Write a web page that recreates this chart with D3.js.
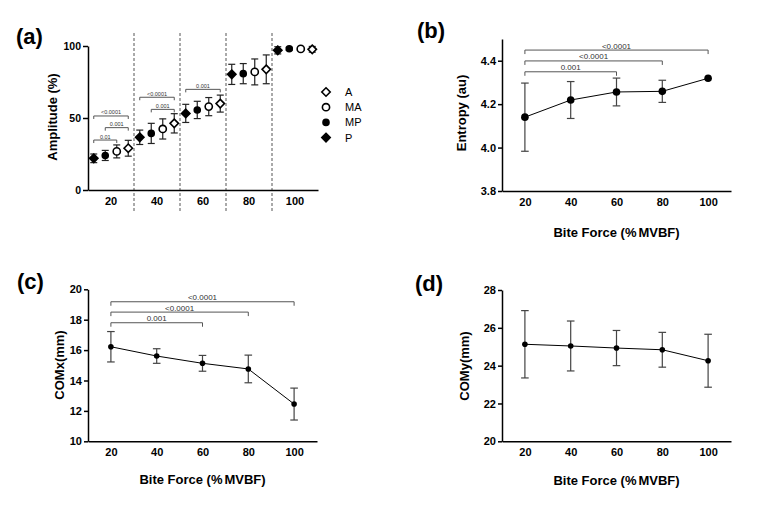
<!DOCTYPE html>
<html><head><meta charset="utf-8">
<script src="https://cdn.jsdelivr.net/npm/d3@7"></script>
<style>body{margin:0;background:#fff} svg{display:block} text{font-family:"Liberation Sans",Arial,sans-serif}</style>
</head><body>
<svg id="chart" width="782" height="515"></svg>
<script>
// ---------- DATA ----------
const forceLevels = [20, 40, 60, 80, 100];
const ampSeries = ["P", "MP", "MA", "A"];
const legendOrder = ["A", "MA", "MP", "P"];
const ampP = [22, 36.6, 53.2, 80.3, 97];
const ampPErr = [3, 5, 6.3, 7, 2.5];
const ampMP = [24, 39.3, 55.6, 80.8, 98.1];
const ampMPErr = [3.5, 7, 6, 7, 1];
const ampMA = [26.8, 42.4, 57.9, 82, 98];
const ampMAErr = [4.5, 7, 6.3, 9, 1];
const ampA = [29, 46.3, 60, 83.8, 97.7];
const ampAErr = [5.5, 6.7, 5.9, 10, 2];
const ampTicks = [0, 50, 100];
const ampBrackets = [
  {group: 20, from: "P", to: "MA", p: "0.01", level: 34.7},
  {group: 20, from: "MP", to: "A", p: "0.001", level: 43.3},
  {group: 20, from: "P", to: "A", p: "<0.0001", level: 51.4},
  {group: 40, from: "MP", to: "A", p: "0.001", level: 56},
  {group: 40, from: "P", to: "A", p: "<0.0001", level: 64.4},
  {group: 60, from: "P", to: "A", p: "0.001", level: 69.9}
];

const entropy = [4.14, 4.219, 4.256, 4.259, 4.319];
const entropyErr = [0.157, 0.085, 0.064, 0.051, 0];
const entropyTicks = [3.8, 4.0, 4.2, 4.4];
const entropyBrackets = [
  {from: 20, to: 60, p: "0.001", level: 4.349},
  {from: 20, to: 80, p: "<0.0001", level: 4.399},
  {from: 20, to: 100, p: "<0.0001", level: 4.449}
];

const comx = [16.22, 15.61, 15.13, 14.76, 12.45];
const comxErr = [1.0, 0.48, 0.52, 0.91, 1.05];
const comxTicks = [10, 12, 14, 16, 18, 20];
const comxBrackets = [
  {from: 20, to: 60, p: "0.001", level: 17.8},
  {from: 20, to: 80, p: "<0.0001", level: 18.5},
  {from: 20, to: 100, p: "<0.0001", level: 19.18}
];

const comy = [25.13, 25.04, 24.93, 24.84, 24.26];
const comyErr = [1.78, 1.32, 0.93, 0.92, 1.4];
const comyTicks = [20, 22, 24, 26, 28];

// ---------- DRAW ----------
const svg = d3.select("#chart");
const FONT = '"Liberation Sans", Arial, sans-serif';

function styleAxis(g, fs) {
  g.selectAll("path.domain").attr("stroke", "#000").attr("stroke-width", 1.5);
  g.selectAll(".tick line").attr("stroke", "#000").attr("stroke-width", 1.5);
  g.selectAll(".tick text").attr("font-family", FONT).attr("font-weight", "bold")
    .attr("font-size", fs).attr("fill", "#000");
}

function bracket(g, x1, x2, y, label, drop, fs, color) {
  g.append("path")
    .attr("d", `M${x1},${y + drop}V${y}H${x2}V${y + drop}`)
    .attr("fill", "none").attr("stroke", color).attr("stroke-width", 1);
  g.append("text").attr("x", (x1 + x2) / 2).attr("y", y - 1.5)
    .attr("text-anchor", "middle").attr("font-size", fs).attr("fill", "#333")
    .text(label);
}

function panelLabel(txt, x, y) {
  svg.append("text").attr("x", x).attr("y", y).attr("font-size", 22)
    .attr("font-weight", "bold").attr("fill", "#000").text(txt);
}

function yTitle(txt, x, y) {
  svg.append("text").attr("transform", `translate(${x},${y}) rotate(-90)`)
    .attr("text-anchor", "middle").attr("font-size", 13).attr("font-weight", "bold")
    .attr("fill", "#000").text(txt);
}
function xTitle(x, y) {
  const t = svg.append("text").attr("x", x).attr("y", y)
    .attr("text-anchor", "middle").attr("font-size", 13).attr("font-weight", "bold")
    .attr("fill", "#000");
  t.append("tspan").text("Bite Force (%");
  t.append("tspan").attr("dx", 2).text("MVBF)");
}

// ---- Panel (a) ----
(function () {
  const x0 = d3.scaleBand().domain(forceLevels).range([88, 318]).padding(0);
  const x1 = d3.scaleBand().domain(ampSeries).range([0, x0.bandwidth()]).padding(0);
  const y = d3.scaleLinear().domain([0, 100]).range([190, 46]);
  const g = svg.append("g");

  // dashed separators
  forceLevels.slice(1).forEach(f => {
    g.append("line").attr("x1", x0(f)).attr("x2", x0(f)).attr("y1", 33).attr("y2", 213)
      .attr("stroke", "#555").attr("stroke-width", 1).attr("stroke-dasharray", "3,2");
  });

  const gx = g.append("g").attr("transform", "translate(0,190)")
    .call(d3.axisBottom(x0).tickSize(0).tickPadding(7));
  styleAxis(gx, 11);
  const gy = g.append("g").attr("transform", "translate(88,0)")
    .call(d3.axisLeft(y).tickValues(ampTicks).tickSize(5).tickSizeOuter(0).tickPadding(2));
  styleAxis(gy, 10.5);

  const seriesVals = {P: ampP, MP: ampMP, MA: ampMA, A: ampA};
  const seriesErr = {P: ampPErr, MP: ampMPErr, MA: ampMAErr, A: ampAErr};
  const cx = (f, s) => x0(f) + x1(s) + x1.bandwidth() / 2;

  function marker(sel, s, r) {
    if (s === "P" || s === "A") {
      const k = r + 0.6;
      sel.append("path").attr("d", `M0,${-k}L${k},0L0,${k}L${-k},0Z`)
        .attr("fill", s === "P" ? "#000" : "#fff").attr("stroke", "#000").attr("stroke-width", 1.6);
    } else {
      sel.append("circle").attr("r", s === "MP" ? r - 0.6 : r)
        .attr("fill", s === "MP" ? "#000" : "#fff").attr("stroke", "#000").attr("stroke-width", 1.6);
    }
  }

  ampSeries.forEach(s => {
    forceLevels.forEach((f, i) => {
      const v = seriesVals[s][i], e = seriesErr[s][i], xx = cx(f, s);
      const eg = g.append("g").attr("stroke", "#222").attr("stroke-width", 1.2);
      eg.append("line").attr("x1", xx).attr("x2", xx).attr("y1", y(v - e)).attr("y2", y(v + e));
      eg.append("line").attr("x1", xx - 3.5).attr("x2", xx + 3.5).attr("y1", y(v - e)).attr("y2", y(v - e));
      eg.append("line").attr("x1", xx - 3.5).attr("x2", xx + 3.5).attr("y1", y(v + e)).attr("y2", y(v + e));
      const mg = g.append("g").attr("transform", `translate(${xx},${y(v)})`);
      marker(mg, s, 3.6);
    });
  });

  ampBrackets.forEach(b => {
    bracket(g, cx(b.group, b.from), cx(b.group, b.to), y(b.level), b.p, 3, 5.5, "#555");
  });

  // legend
  legendOrder.forEach((s, i) => {
    const ly = 92 + i * 15.2;
    const mg = g.append("g").attr("transform", `translate(326,${ly})`);
    marker(mg, s, 3.6);
    g.append("text").attr("x", 345).attr("y", ly + 4).attr("font-size", 11)
      .attr("fill", "#000").text(s);
  });

  yTitle("Amplitude (%)", 57, 117);
  panelLabel("(a)", 16, 44);
})();

// ---- Line panels ----
function linePanel(cfg) {
  const x = d3.scaleLinear().domain([10, 110]).range([cfg.left, cfg.left + 229]);
  const y = d3.scaleLinear().domain(cfg.domain).range(cfg.yRange);
  const g = svg.append("g");
  const gx = g.append("g").attr("transform", `translate(0,${cfg.yRange[0]})`)
    .call(d3.axisBottom(x).tickValues(forceLevels).tickSize(0).tickSizeOuter(0).tickPadding(7));
  styleAxis(gx, 11);
  const gy = g.append("g").attr("transform", `translate(${cfg.left},0)`)
    .call(d3.axisLeft(y).tickValues(cfg.ticks).tickFormat(cfg.fmt).tickSize(4).tickSizeOuter(0).tickPadding(2));
  styleAxis(gy, 11);

  const pts = forceLevels.map((f, i) => ({f, v: cfg.values[i], e: cfg.errs[i]}));
  pts.forEach(p => {
    if (p.e <= 0) return;
    const xx = x(p.f);
    const eg = g.append("g").attr("stroke", "#444").attr("stroke-width", 1.2);
    eg.append("line").attr("x1", xx).attr("x2", xx).attr("y1", y(p.v - p.e)).attr("y2", y(p.v + p.e));
    eg.append("line").attr("x1", xx - 3.8).attr("x2", xx + 3.8).attr("y1", y(p.v - p.e)).attr("y2", y(p.v - p.e));
    eg.append("line").attr("x1", xx - 3.8).attr("x2", xx + 3.8).attr("y1", y(p.v + p.e)).attr("y2", y(p.v + p.e));
  });
  g.append("path").datum(pts)
    .attr("d", d3.line().x(d => x(d.f)).y(d => y(d.v)))
    .attr("fill", "none").attr("stroke", "#000").attr("stroke-width", 1);
  g.selectAll("circle.pt").data(pts).join("circle").attr("class", "pt")
    .attr("cx", d => x(d.f)).attr("cy", d => y(d.v)).attr("r", cfg.r).attr("fill", "#000");

  (cfg.brackets || []).forEach(b => {
    bracket(g, x(b.from), x(b.to), y(b.level), b.p, 4, 8, "#555");
  });

  yTitle(cfg.ytitle, cfg.ytx, cfg.yty);
  xTitle(cfg.left + 114.5, cfg.xty);
  panelLabel(cfg.label, cfg.lx, cfg.ly);
}

linePanel({left: 502, domain: [3.8, 4.5], yRange: [191, 39], ticks: entropyTicks,
  fmt: d3.format(".1f"), values: entropy, errs: entropyErr, r: 3.8, brackets: entropyBrackets,
  ytitle: "Entropy (au)", ytx: 466, yty: 113, xty: 237, label: "(b)", lx: 417, ly: 38});

linePanel({left: 88, domain: [10, 20], yRange: [441.3, 289.3], ticks: comxTicks,
  fmt: d3.format("d"), values: comx, errs: comxErr, r: 2.8, brackets: comxBrackets,
  ytitle: "COMx(mm)", ytx: 64, yty: 365, xty: 484, label: "(c)", lx: 17, ly: 289});

linePanel({left: 502, domain: [20, 28], yRange: [441.3, 290], ticks: comyTicks,
  fmt: d3.format("d"), values: comy, errs: comyErr, r: 2.8, brackets: [],
  ytitle: "COMy(mm)", ytx: 469, yty: 366, xty: 485, label: "(d)", lx: 415, ly: 291});
</script>
</body></html>
